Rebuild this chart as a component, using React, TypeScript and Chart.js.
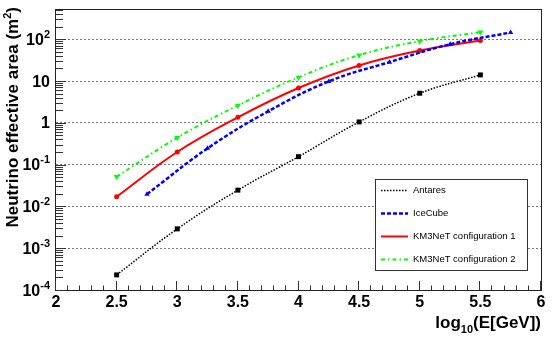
import React, { useEffect, useRef } from "react";
import { Chart, registerables } from "chart.js";
Chart.register(...registerables);

// ---- data ----
const energyMain = [2.5, 3, 3.5, 4, 4.5, 5, 5.5];
const energyIceCube = [2.75, 3.25, 3.75, 4.25, 4.75, 5.25, 5.75];
const antares = [2.3e-4, 2.9e-3, 0.0245, 0.155, 1.05, 5.1, 14];
const iceCube = [0.0196, 0.245, 1.88, 9.8, 28.3, 76, 145];
const km3net1 = [0.017, 0.2, 1.35, 6.8, 23.6, 53.8, 93];
const km3net2 = [0.051, 0.44, 2.6, 12.2, 41.5, 90, 147];

const xTickValues = [2, 2.5, 3, 3.5, 4, 4.5, 5, 5.5, 6];
const xTickLabels = ["2", "2.5", "3", "3.5", "4", "4.5", "5", "5.5", "6"];
const yExponents = [-4, -3, -2, -1, 0, 1, 2];
const yMin = 1e-4;
const yMax = 500;
const xMin = 2;
const xMax = 6;

const legendNames = ["Antares", "IceCube", "KM3NeT configuration 1", "KM3NeT configuration 2"];

const FONT = "'Liberation Sans', Arial, Helvetica, sans-serif";

const pts = (xs: number[], ys: number[]) => xs.map((x, i) => ({ x, y: ys[i] }));

const seriesStyles = [
  { color: "#000000", width: 1.5, dash: [1.5, 1.5] },
  { color: "#0000ff", width: 2.5, dash: [4, 2] },
  { color: "#ff0000", width: 2, dash: [] as number[] },
  { color: "#00ff00", width: 2, dash: [4, 3, 1.5, 3] },
];

const overlayPlugin = {
  id: "rootStyle",
  afterDraw(chart: any) {
    const ctx: CanvasRenderingContext2D = chart.ctx;
    const { left, right, top, bottom } = chart.chartArea;
    const xs = chart.scales.x;
    const ys = chart.scales.y;
    ctx.save();

    // frame
    ctx.strokeStyle = "#222";
    ctx.lineWidth = 1;
    ctx.setLineDash([]);
    ctx.strokeRect(left - 0.5, top - 0.5, right - left + 1, bottom - top + 1);

    // left ticks (inside)
    ctx.strokeStyle = "#333";
    ctx.beginPath();
    for (const d of yExponents) {
      for (let k = 1; k <= 9; k++) {
        const v = k * Math.pow(10, d);
        if (v > yMax) break;
        const y = Math.round(ys.getPixelForValue(v)) + 0.5;
        const len = k === 1 ? 10 : 7;
        ctx.moveTo(left, y);
        ctx.lineTo(left + len, y);
      }
    }
    // bottom ticks (inside)
    for (let i = 0; i <= 40; i++) {
      const v = xMin + i * 0.1;
      const x = Math.round(xs.getPixelForValue(v)) - 0.5;
      const len = i % 5 === 0 ? 9 : 4.5;
      ctx.moveTo(x, bottom);
      ctx.lineTo(x, bottom - len);
    }
    ctx.stroke();

    ctx.fillStyle = "#000";
    ctx.textBaseline = "alphabetic";

    // x tick labels
    ctx.font = `bold 16px ${FONT}`;
    ctx.textAlign = "center";
    xTickValues.forEach((v, i) => {
      ctx.fillText(xTickLabels[i], xs.getPixelForValue(v), bottom + 17);
    });

    // y tick labels with superscripts
    yExponents.forEach((e) => {
      const y = ys.getPixelForValue(Math.pow(10, e));
      const rightX = left - 6;
      const baseY = y + 5.5;
      ctx.textAlign = "left";
      if (e === 0 || e === 1) {
        ctx.font = `bold 16px ${FONT}`;
        const t = e === 0 ? "1" : "10";
        const w = ctx.measureText(t).width;
        ctx.fillText(t, rightX - w, baseY);
      } else {
        ctx.font = `bold 11px ${FONT}`;
        const sup = String(e);
        const ws = ctx.measureText(sup).width;
        ctx.font = `bold 16px ${FONT}`;
        const wb = ctx.measureText("10").width;
        const x0 = rightX - ws - wb;
        ctx.fillText("10", x0, baseY);
        ctx.font = `bold 11px ${FONT}`;
        ctx.fillText(sup, x0 + wb, baseY - 7);
      }
    });

    // x axis title: log10(E[GeV])
    {
      const big = `bold 17px ${FONT}`;
      const small = `bold 11px ${FONT}`;
      ctx.font = big;
      const w1 = ctx.measureText("log").width;
      const w3 = ctx.measureText("(E[GeV])").width;
      ctx.font = small;
      const w2 = ctx.measureText("10").width;
      const x0 = right - (w1 + w2 + w3);
      const by = bottom + 38;
      ctx.textAlign = "left";
      ctx.font = big;
      ctx.fillText("log", x0, by);
      ctx.font = small;
      ctx.fillText("10", x0 + w1, by + 5);
      ctx.font = big;
      ctx.fillText("(E[GeV])", x0 + w1 + w2, by);
    }

    // y axis title
    {
      const big = `bold 17px ${FONT}`;
      const small = `bold 11px ${FONT}`;
      ctx.save();
      ctx.translate(18, top - 3);
      ctx.rotate(-Math.PI / 2);
      ctx.font = big;
      const t1 = "Neutrino effective area (m";
      const w1 = ctx.measureText(t1).width;
      const w3 = ctx.measureText(")").width;
      ctx.font = small;
      const w2 = ctx.measureText("2").width;
      const x0 = -(w1 + w2 + w3);
      ctx.textAlign = "left";
      ctx.font = big;
      ctx.fillText(t1, x0, 0);
      ctx.font = small;
      ctx.fillText("2", x0 + w1, -7);
      ctx.font = big;
      ctx.fillText(")", x0 + w1 + w2, 0);
      ctx.restore();
    }

    // legend
    {
      const bx = 375.5, by = 179.5, bw = 152, bh = 91;
      ctx.fillStyle = "#fff";
      ctx.fillRect(bx, by, bw, bh);
      ctx.strokeStyle = "#333";
      ctx.lineWidth = 1;
      ctx.setLineDash([]);
      ctx.strokeRect(bx, by, bw, bh);
      const rowsY = [190.5, 213.5, 236.5, 259.5];
      legendNames.forEach((name, i) => {
        const st = seriesStyles[i];
        ctx.strokeStyle = st.color;
        ctx.lineWidth = st.width;
        ctx.setLineDash(st.dash);
        ctx.beginPath();
        ctx.moveTo(381, rowsY[i]);
        ctx.lineTo(408, rowsY[i]);
        ctx.stroke();
        ctx.setLineDash([]);
        ctx.fillStyle = "#000";
        ctx.font = `9.5px ${FONT}`;
        ctx.textAlign = "left";
        ctx.textBaseline = "middle";
        ctx.fillText(name, 413, rowsY[i]);
      });
    }
    ctx.restore();
  },
};

export default function App() {
  const ref = useRef<HTMLCanvasElement>(null);
  useEffect(() => {
    const canvas = ref.current!;
    const mk = (label: string, xs: number[], ys: number[], i: number, pointStyle: any, radius: number, rotation = 0) => ({
      label,
      data: pts(xs, ys),
      borderColor: seriesStyles[i].color,
      backgroundColor: seriesStyles[i].color,
      borderWidth: seriesStyles[i].width,
      borderDash: seriesStyles[i].dash,
      pointStyle,
      pointRadius: radius,
      pointRotation: rotation,
      pointBorderWidth: 0,
      pointBackgroundColor: seriesStyles[i].color,
      tension: 0.4,
      fill: false,
    });
    const chart = new Chart(canvas, {
      type: "line",
      data: {
        datasets: [
          mk(legendNames[0], energyMain, antares, 0, "rect", 3.5),
          mk(legendNames[1], energyIceCube, iceCube, 1, "triangle", 3),
          mk(legendNames[2], energyMain, km3net1, 2, "circle", 2.5),
          mk(legendNames[3], energyMain, km3net2, 3, "triangle", 3.5, 180),
        ] as any,
      },
      options: {
        animation: false,
        responsive: false,
        devicePixelRatio: 1,
        layout: { padding: { left: 56, right: 15, top: 10, bottom: 50 } },
        plugins: { legend: { display: false }, tooltip: { enabled: false } },
        scales: {
          x: {
            type: "linear",
            min: xMin,
            max: xMax,
            ticks: { display: false },
            grid: { display: false, drawTicks: false },
            border: { display: false },
          },
          y: {
            type: "logarithmic",
            min: yMin,
            max: yMax,
            afterBuildTicks: (s: any) => {
              s.ticks = yExponents.map((e) => ({ value: Math.pow(10, e) }));
            },
            ticks: { display: false },
            grid: { color: "#777", lineWidth: 1, drawTicks: false },
            border: { display: false, dash: [2, 2] },
          },
        },
      } as any,
      plugins: [overlayPlugin],
    });
    return () => chart.destroy();
  }, []);
  return (
    <div style={{ position: "fixed", left: 0, top: 0, width: 556, height: 340, background: "#fff" }}>
      <canvas ref={ref} width={556} height={340} style={{ width: 556, height: 340, display: "block" }} />
    </div>
  );
}
